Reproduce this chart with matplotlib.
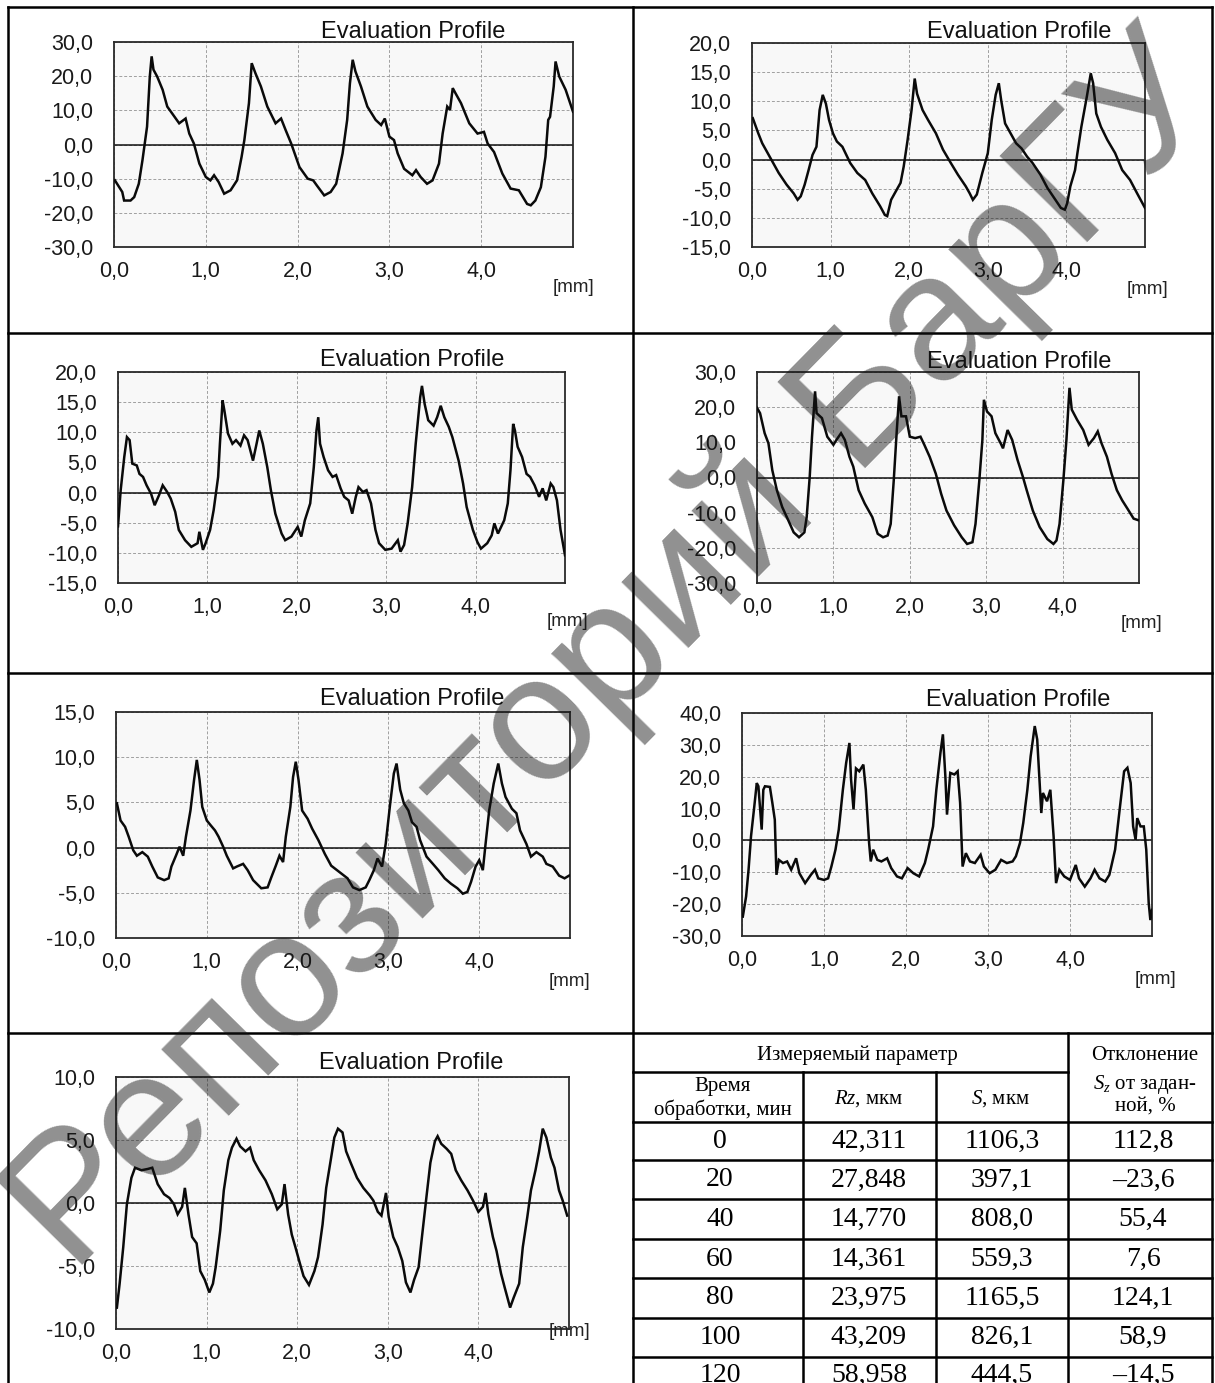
import matplotlib
matplotlib.use('Agg')
import matplotlib.pyplot as plt
from matplotlib.ticker import FixedLocator, FixedFormatter

plt.rcParams['font.family'] = ['Liberation Sans', 'DejaVu Sans']
plt.rcParams['mathtext.fontset'] = 'custom'
plt.rcParams['mathtext.rm'] = 'Liberation Serif'
plt.rcParams['mathtext.it'] = 'Liberation Serif:italic'

W, H, DPI = 1215, 1383, 100

# ---------------- data (profiles, mm / um) ----------------
p1_x = [0.01, 0.09, 0.11, 0.18, 0.22, 0.27, 0.31, 0.36, 0.39, 0.41, 0.43, 0.47, 0.53, 0.58, 0.62, 0.71, 0.78, 0.82, 0.87, 0.93,
        1.00, 1.05, 1.09, 1.14, 1.20, 1.27, 1.34, 1.39, 1.42, 1.47, 1.50, 1.54, 1.60, 1.67, 1.76, 1.82, 1.87, 1.93,
        2.02, 2.11, 2.17, 2.21, 2.29, 2.36, 2.42, 2.49, 2.54, 2.57, 2.60, 2.63, 2.69, 2.76, 2.85, 2.91, 2.95,
        3.00, 3.05, 3.09, 3.16, 3.25, 3.29, 3.34, 3.41, 3.47, 3.54, 3.58, 3.63, 3.66, 3.69, 3.72, 3.78, 3.87, 3.96,
        4.03, 4.07, 4.14, 4.23, 4.32, 4.41, 4.50, 4.54, 4.59, 4.65, 4.70, 4.73, 4.75, 4.79, 4.81, 4.85, 4.92, 5.00]
p1_y = [-10.5, -13.9, -16.4, -16.4, -15.4, -11.5, -4.6, 5.2, 19.9, 25.8, 21.9, 19.9, 16.0, 11.1, 9.6, 6.2, 7.6, 3.2, 0.3, -5.6,
        -9.5, -10.5, -9.0, -11.0, -14.4, -13.4, -10.5, -3.6, 1.3, 12.1, 23.8, 20.9, 17.0, 11.1, 6.2, 7.6, 4.2, 0.3,
        -6.6, -10.0, -10.5, -12.0, -14.9, -13.9, -11.5, -2.6, 7.2, 17.9, 24.8, 21.4, 17.0, 11.1, 7.2, 5.7, 7.6,
        2.3, 1.3, -2.6, -7.1, -9.0, -7.5, -9.5, -11.5, -10.5, -5.6, 3.2, 11.1, 10.1, 16.5, 15.0, 12.1, 6.2, 3.2,
        3.7, 0.3, -2.2, -8.5, -12.9, -13.4, -17.4, -17.8, -16.4, -12.5, -3.6, 7.2, 8.1, 17.0, 24.3, 19.9, 16.0, 9.6]

p2_x = [0.01, 0.08, 0.13, 0.20, 0.27, 0.34, 0.44, 0.53, 0.58, 0.62, 0.67, 0.72, 0.77, 0.82, 0.86, 0.90, 0.94, 0.98,
        1.03, 1.08, 1.15, 1.25, 1.34, 1.44, 1.53, 1.63, 1.69, 1.72, 1.77, 1.84, 1.89, 1.93, 1.98,
        2.03, 2.07, 2.10, 2.17, 2.24, 2.34, 2.43, 2.53, 2.62, 2.72, 2.77, 2.81, 2.86, 2.93,
        3.00, 3.05, 3.10, 3.14, 3.17, 3.22, 3.29, 3.36, 3.43, 3.50, 3.57, 3.67, 3.76, 3.86, 3.93, 3.98,
        4.01, 4.05, 4.11, 4.14, 4.19, 4.26, 4.31, 4.34, 4.38, 4.44, 4.52, 4.62, 4.71, 4.81, 4.90, 5.00]
p2_y = [7.1, 4.5, 2.8, 1.1, -0.6, -2.3, -4.3, -5.8, -6.9, -6.3, -4.3, -1.8, 0.8, 2.2, 8.5, 11.1, 9.6, 6.8,
        4.5, 3.1, 2.2, -0.6, -2.3, -3.5, -5.8, -8.0, -9.5, -9.7, -6.9, -5.2, -4.0, -1.2, 3.4,
        8.5, 13.9, 11.3, 8.5, 6.8, 4.5, 1.7, -0.6, -2.6, -4.6, -5.8, -6.9, -6.0, -2.3,
        1.1, 6.8, 11.1, 13.1, 10.2, 6.2, 4.5, 2.8, 1.9, 0.5, -0.6, -2.6, -4.9, -6.9, -8.3, -8.6,
        -7.5, -4.6, -1.8, 1.1, 5.6, 10.8, 14.8, 13.1, 7.9, 5.6, 3.4, 1.1, -1.8, -3.5, -5.8, -8.3]

p3_x = [0.00, 0.03, 0.07, 0.10, 0.13, 0.16, 0.21, 0.24, 0.28, 0.32, 0.37, 0.41, 0.46, 0.50, 0.55, 0.59, 0.64, 0.68, 0.75,
        0.82, 0.89, 0.91, 0.95, 0.98, 1.03, 1.07, 1.12, 1.14, 1.17, 1.19, 1.23, 1.28, 1.32, 1.37, 1.41, 1.45,
        1.51, 1.55, 1.58, 1.62, 1.67, 1.71, 1.76, 1.83, 1.87, 1.94, 2.01, 2.05, 2.09, 2.15, 2.19, 2.22, 2.24,
        2.26, 2.30, 2.35, 2.40, 2.44, 2.49, 2.53, 2.58, 2.62, 2.66, 2.69, 2.74, 2.78, 2.83, 2.88, 2.92, 2.99,
        3.06, 3.13, 3.16, 3.20, 3.24, 3.29, 3.33, 3.38, 3.40, 3.43, 3.47, 3.53, 3.57, 3.61, 3.65, 3.70, 3.74,
        3.81, 3.86, 3.90, 3.97, 4.02, 4.06, 4.13, 4.18, 4.21, 4.25, 4.32, 4.36, 4.39, 4.42, 4.44, 4.47, 4.52,
        4.57, 4.61, 4.66, 4.71, 4.75, 4.79, 4.84, 4.87, 4.91, 4.95, 5.00]
p3_y = [-5.6, 0.4, 5.9, 9.2, 8.7, 4.8, 4.5, 3.1, 2.6, 1.2, -0.2, -2.1, -0.4, 1.2, 0.1, -1.0, -3.2, -6.2, -7.9,
        -9.0, -8.4, -6.5, -9.5, -8.4, -6.2, -2.9, 2.6, 8.1, 15.3, 13.6, 9.8, 8.1, 8.7, 7.8, 9.5, 8.7,
        5.3, 8.1, 10.3, 8.1, 4.2, 0.4, -3.5, -6.8, -7.9, -7.3, -5.7, -7.3, -4.6, -1.8, 4.2, 10.3, 12.5,
        8.1, 5.9, 3.7, 2.6, 2.9, 0.7, -0.7, -1.3, -3.5, -0.7, 0.9, 0.1, 0.4, -1.8, -6.2, -8.4, -9.5,
        -9.3, -7.9, -9.8, -8.7, -5.1, 0.9, 8.1, 15.8, 17.7, 14.7, 12.0, 11.1, 12.5, 14.4, 12.5, 10.9, 9.2,
        5.3, 1.5, -2.4, -6.2, -8.2, -9.3, -8.4, -7.1, -5.1, -6.8, -4.6, -1.8, 3.7, 11.4, 10.3, 7.6, 5.9,
        3.1, 2.6, 1.2, -0.7, 0.7, -1.3, 1.5, 0.9, -1.3, -6.2, -10.4]

p4_x = [0.00, 0.04, 0.10, 0.15, 0.20, 0.26, 0.33, 0.41, 0.48, 0.55, 0.62, 0.65, 0.69, 0.72, 0.76, 0.78, 0.85, 0.92,
        1.00, 1.04, 1.10, 1.15, 1.21, 1.26, 1.33, 1.41, 1.51, 1.58, 1.65, 1.71, 1.75, 1.79, 1.83, 1.86, 1.89, 1.95,
        2.00, 2.07, 2.14, 2.19, 2.26, 2.34, 2.41, 2.48, 2.58, 2.68, 2.75, 2.82, 2.86, 2.91, 2.95, 2.97,
        3.01, 3.07, 3.12, 3.19, 3.22, 3.28, 3.34, 3.41, 3.48, 3.53, 3.61, 3.70, 3.80, 3.88, 3.92, 3.96,
        4.01, 4.05, 4.09, 4.12, 4.19, 4.27, 4.34, 4.41, 4.46, 4.51, 4.58, 4.64, 4.71, 4.78, 4.85, 4.93, 5.00]
p4_y = [19.8, 18.3, 12.6, 9.7, 2.1, -3.6, -8.4, -12.2, -15.6, -17.0, -15.6, -11.3, 0.2, 11.6, 24.5, 18.3, 16.9, 11.6,
        9.3, 10.7, 12.6, 10.7, 5.9, 3.1, -3.6, -7.4, -11.3, -16.0, -17.0, -16.5, -13.2, -0.8, 13.5, 23.1, 17.4, 17.4,
        11.6, 11.2, 11.6, 9.3, 5.9, 1.1, -4.6, -9.4, -13.6, -17.0, -18.9, -18.4, -13.2, -0.8, 10.7, 22.1,
        18.8, 17.4, 12.6, 9.7, 8.3, 13.5, 10.7, 5.0, 0.2, -3.6, -9.4, -14.1, -17.5, -18.9, -17.9, -13.2,
        -0.8, 10.7, 25.5, 19.3, 16.4, 13.5, 9.3, 11.2, 13.1, 9.7, 5.9, 1.1, -3.6, -6.5, -8.9, -11.7, -12.2]

p5_x = [0.01, 0.05, 0.10, 0.14, 0.19, 0.23, 0.29, 0.35, 0.40, 0.46, 0.53, 0.58, 0.61, 0.66, 0.70, 0.74, 0.77, 0.82,
        0.86, 0.89, 0.92, 0.95, 1.00, 1.04, 1.09, 1.13, 1.18, 1.22, 1.29, 1.33, 1.40, 1.45, 1.51, 1.60, 1.67,
        1.71, 1.76, 1.80, 1.84, 1.87, 1.92, 1.95, 1.98, 2.01, 2.05, 2.11, 2.16, 2.23, 2.30, 2.37, 2.46, 2.55,
        2.61, 2.68, 2.75, 2.79, 2.84, 2.88, 2.93, 2.97, 3.02, 3.06, 3.09, 3.13, 3.17, 3.22, 3.26, 3.31, 3.35,
        3.42, 3.49, 3.55, 3.62, 3.69, 3.76, 3.82, 3.87, 3.91, 3.96, 4.00, 4.04, 4.07, 4.11, 4.16, 4.21, 4.25,
        4.29, 4.36, 4.41, 4.45, 4.52, 4.57, 4.63, 4.70, 4.74, 4.81, 4.88, 4.94, 4.99]
p5_y = [4.9, 3.0, 2.3, 1.2, -0.3, -0.9, -0.5, -1.0, -2.1, -3.3, -3.6, -3.4, -2.1, -0.9, 0.1, -0.9, 1.2, 4.1,
        7.5, 9.7, 7.5, 4.5, 3.0, 2.5, 1.9, 1.2, 0.1, -0.9, -2.3, -2.1, -1.8, -2.5, -3.6, -4.5, -4.4,
        -3.3, -2.0, -0.9, -1.6, 1.2, 4.5, 7.8, 9.5, 7.5, 4.1, 3.2, 2.1, 0.8, -0.7, -2.0, -2.7, -3.4,
        -4.4, -4.7, -4.4, -3.6, -2.5, -1.2, -2.1, 0.4, 4.9, 8.2, 9.3, 6.4, 4.9, 4.1, 2.8, 2.3, 0.8,
        -1.0, -1.8, -2.5, -3.4, -4.0, -4.5, -5.1, -4.9, -3.8, -2.1, -1.4, -2.5, 0.4, 4.1, 7.1, 9.3, 7.1,
        5.6, 4.3, 3.8, 1.9, 0.4, -1.0, -0.5, -1.0, -1.8, -2.1, -3.1, -3.4, -3.1]

p6_x = [0.01, 0.05, 0.08, 0.11, 0.15, 0.18, 0.20, 0.24, 0.26, 0.28, 0.34, 0.37, 0.40, 0.42, 0.45, 0.50, 0.55, 0.60,
        0.66, 0.70, 0.77, 0.84, 0.89, 0.93, 1.00, 1.05, 1.09, 1.14, 1.18, 1.23, 1.27, 1.31, 1.33, 1.36, 1.39,
        1.43, 1.48, 1.51, 1.55, 1.57, 1.60, 1.65, 1.70, 1.77, 1.82, 1.89, 1.95, 2.02, 2.09, 2.16, 2.23, 2.27,
        2.33, 2.37, 2.42, 2.45, 2.48, 2.50, 2.54, 2.59, 2.63, 2.66, 2.69, 2.73, 2.78, 2.84, 2.91, 2.95, 3.02,
        3.09, 3.16, 3.23, 3.30, 3.34, 3.39, 3.43, 3.48, 3.52, 3.57, 3.60, 3.63, 3.65, 3.67, 3.72, 3.76, 3.80,
        3.83, 3.87, 3.93, 4.00, 4.07, 4.11, 4.18, 4.25, 4.30, 4.36, 4.43, 4.48, 4.55, 4.61, 4.66, 4.70, 4.74,
        4.77, 4.80, 4.82, 4.86, 4.90, 4.93, 4.96, 4.98, 5.00]
p6_y = [-23.9, -17.6, -9.2, 1.3, 10.7, 18.0, 17.0, 3.4, 15.9, 17.0, 16.8, 11.8, 6.5, -10.8, -6.1, -7.1, -6.6, -9.2,
        -5.6, -10.3, -13.4, -10.8, -9.2, -11.9, -12.4, -11.9, -8.2, -2.9, 3.4, 15.9, 24.3, 30.6, 19.1, 9.7, 22.6,
        21.7, 23.8, 15.9, -0.8, -6.6, -2.9, -6.1, -6.6, -5.6, -8.7, -11.3, -11.9, -8.7, -10.3, -11.3, -7.1, -2.9,
        4.4, 15.9, 27.5, 33.3, 20.1, 8.1, 21.2, 20.7, 21.7, 11.8, -8.2, -4.0, -6.6, -7.1, -4.5, -8.2, -10.3,
        -9.2, -6.1, -7.1, -6.6, -5.0, -0.8, 5.5, 15.9, 26.4, 35.9, 31.7, 18.0, 8.6, 14.9, 12.3, 15.9, 1.3,
        -13.4, -9.2, -11.3, -12.4, -7.7, -11.9, -14.5, -11.9, -9.2, -11.9, -12.9, -10.8, -2.9, 10.7, 21.7, 22.8, 18.0,
        4.4, 0.2, 7.0, 4.4, 4.4, -2.9, -19.7, -25.0, -21.8]

p7_x = [0.01, 0.04, 0.08, 0.12, 0.17, 0.21, 0.28, 0.35, 0.40, 0.46, 0.53, 0.59, 0.64, 0.68, 0.73, 0.76, 0.80, 0.84,
        0.89, 0.93, 0.98, 1.03, 1.07, 1.10, 1.15, 1.19, 1.24, 1.28, 1.33, 1.37, 1.43, 1.48, 1.52, 1.58, 1.65,
        1.72, 1.78, 1.83, 1.86, 1.90, 1.94, 1.98, 2.03, 2.07, 2.13, 2.19, 2.23, 2.28, 2.32, 2.37, 2.41, 2.45,
        2.50, 2.54, 2.59, 2.66, 2.73, 2.80, 2.84, 2.89, 2.93, 2.98, 3.01, 3.06, 3.11, 3.16, 3.20, 3.25, 3.29,
        3.34, 3.38, 3.43, 3.47, 3.52, 3.55, 3.59, 3.65, 3.70, 3.75, 3.81, 3.88, 3.94, 4.00, 4.05, 4.08, 4.11,
        4.16, 4.20, 4.25, 4.29, 4.35, 4.39, 4.45, 4.49, 4.54, 4.58, 4.63, 4.67, 4.71, 4.75, 4.80, 4.84, 4.89,
        4.93, 4.98]
p7_y = [-8.3, -6.4, -3.5, -0.1, 2.0, 2.8, 2.6, 2.7, 2.8, 1.5, 0.7, 0.4, -0.1, -0.9, -0.3, 1.2, -0.9, -2.7,
        -3.2, -5.4, -6.1, -7.1, -6.4, -5.1, -2.2, 1.0, 3.4, 4.4, 5.1, 4.5, 4.1, 4.4, 3.4, 2.6, 1.8,
        0.7, -0.5, -0.1, 1.5, -0.9, -2.5, -3.5, -4.8, -5.8, -6.5, -5.4, -4.3, -1.7, 1.2, 3.4, 5.2, 5.9,
        5.6, 4.1, 3.2, 2.0, 1.2, 0.6, 0.2, -0.7, -1.0, 0.8, -1.1, -2.7, -3.5, -4.6, -6.3, -7.1, -6.1,
        -5.1, -2.5, 0.7, 3.2, 4.9, 5.3, 4.7, 4.3, 3.9, 2.6, 1.8, 1.0, 0.2, -0.7, -0.3, 0.8, -0.9,
        -2.7, -3.8, -5.6, -6.7, -8.3, -7.5, -6.4, -3.5, -1.1, 1.0, 2.6, 4.1, 5.9, 5.2, 3.6, 2.8, 1.0,
        0.2, -1.0]

x_ticks = [0, 1, 2, 3, 4]
x_tick_labels = ['0,0', '1,0', '2,0', '3,0', '4,0']
x_limits = [0, 5]

p1_yticks = [30, 20, 10, 0, -10, -20, -30]
p1_yticklabels = ['30,0', '20,0', '10,0', '0,0', '-10,0', '-20,0', '-30,0']
p2_yticks = [20, 15, 10, 5, 0, -5, -10, -15]
p2_yticklabels = ['20,0', '15,0', '10,0', '5,0', '0,0', '-5,0', '-10,0', '-15,0']
p3_yticks = [20, 15, 10, 5, 0, -5, -10, -15]
p3_yticklabels = ['20,0', '15,0', '10,0', '5,0', '0,0', '-5,0', '-10,0', '-15,0']
p4_yticks = [30, 20, 10, 0, -10, -20, -30]
p4_yticklabels = ['30,0', '20,0', '10,0', '0,0', '-10,0', '-20,0', '-30,0']
p5_yticks = [15, 10, 5, 0, -5, -10]
p5_yticklabels = ['15,0', '10,0', '5,0', '0,0', '-5,0', '-10,0']
p6_yticks = [40, 30, 20, 10, 0, -10, -20, -30]
p6_yticklabels = ['40,0', '30,0', '20,0', '10,0', '0,0', '-10,0', '-20,0', '-30,0']
p7_yticks = [10, 5, 0, -5, -10]
p7_yticklabels = ['10,0', '5,0', '0,0', '-5,0', '-10,0']

plot_title = 'Evaluation Profile'
unit_label = '[mm]'

table_header_top = 'Измеряемый параметр'
table_header_dev = ['Отклонение', r'$S_z$ от задан-', 'ной, %']
table_header_time = ['Время', 'обработки, мин']
table_header_rz = r'$Rz$, мкм'
table_header_s = r'$S$, мкм'
table_time = ['0', '20', '40', '60', '80', '100', '120']
table_rz = ['42,311', '27,848', '14,770', '14,361', '23,975', '43,209', '58,958']
table_s = ['1106,3', '397,1', '808,0', '559,3', '1165,5', '826,1', '444,5']
table_dev = ['112,8', '–23,6', '55,4', '7,6', '124,1', '58,9', '–14,5']

watermark = 'Репозиторий БарГУ'

# ---------------- layout (pixels) ----------------
panels = [
    # x, y, yticks, yticklabels, axes box (l, t, r, b), title centre, unit centre
    (p1_x, p1_y, p1_yticks, p1_yticklabels, (114, 42, 573, 247), (413, 32), (574, 288)),
    (p2_x, p2_y, p2_yticks, p2_yticklabels, (752, 43, 1145, 247), (1019, 32), (1148, 290)),
    (p3_x, p3_y, p3_yticks, p3_yticklabels, (118, 372, 565, 583), (412, 360), (568, 621)),
    (p4_x, p4_y, p4_yticks, p4_yticklabels, (757, 372, 1139, 583), (1019, 362), (1141, 623)),
    (p5_x, p5_y, p5_yticks, p5_yticklabels, (116, 712, 570, 938), (412, 699), (570, 982)),
    (p6_x, p6_y, p6_yticks, p6_yticklabels, (742, 713, 1152, 936), (1018, 700), (1155, 980)),
    (p7_x, p7_y, p7_yticks, p7_yticklabels, (116, 1077, 569, 1329), (411, 1063), (570, 1332)),
]

fig = plt.figure(figsize=(W / DPI, H / DPI), dpi=DPI)
fig.patch.set_facecolor('white')

for xs, ys, yt, ytl, (l, t, r, b), _, _ in panels:
    ax = fig.add_axes([l / W, 1 - b / H, (r - l) / W, (b - t) / H])
    ax.set_facecolor('#f8f8f8')
    ax.plot(xs, ys, color='#0a0a0a', lw=1.8, solid_joinstyle='miter', zorder=3)
    ax.axhline(0, color='#111111', lw=1.1, zorder=2)
    ax.set_xlim(*x_limits)
    ax.set_ylim(min(yt), max(yt))
    ax.xaxis.set_major_locator(FixedLocator(x_ticks))
    ax.xaxis.set_major_formatter(FixedFormatter(x_tick_labels))
    ax.yaxis.set_major_locator(FixedLocator(yt))
    ax.yaxis.set_major_formatter(FixedFormatter(ytl))
    ax.grid(True, linestyle=(0, (3, 2)), color='#a0a0a0', linewidth=0.7, zorder=1)
    ax.set_axisbelow(True)
    ax.tick_params(length=0, labelsize=15.5, colors='#1a1a1a')
    ax.tick_params(axis='y', pad=15)
    ax.tick_params(axis='x', pad=10)
    for sp in ax.spines.values():
        sp.set_color('#2a2a2a')
        sp.set_linewidth(1.3)

# overlay in pixel coordinates
ov = fig.add_axes([0, 0, 1, 1])
ov.set_xlim(0, W)
ov.set_ylim(H, 0)
ov.axis('off')
ov.patch.set_alpha(0)

for *_, (tx, ty), (ux, uy) in panels:
    ov.text(tx, ty, plot_title, fontsize=17, ha='center', va='center', color='#111111')
    ov.text(ux, uy, unit_label, fontsize=13.5, ha='center', va='center', color='#222222')

lw_b = 1.8
def hline(y, x0, x1):
    ov.plot([x0, x1], [y, y], color='black', lw=lw_b, solid_capstyle='projecting')
def vline(x, y0, y1):
    ov.plot([x, x], [y0, y1], color='black', lw=lw_b, solid_capstyle='projecting')

# outer grid
hline(7, 8, 1212)
hline(333, 8, 1212)
hline(673, 8, 1212)
hline(1033, 8, 1212)
vline(8, 7, H + 5)
vline(633, 7, H + 5)
vline(1212, 7, H + 5)

# table grid
hline(1072, 633, 1068)
row_lines = [1122, 1160, 1199, 1239, 1278, 1318, 1357]
for y in row_lines:
    hline(y, 633, 1212)
vline(803, 1072, H + 5)
vline(936, 1072, H + 5)
vline(1068, 1033, H + 5)

serif = ['Liberation Serif', 'DejaVu Serif']
hfs = 15
ov.text(857, 1055, table_header_top, family=serif, fontsize=hfs, ha='center', va='center')
for txt, y in zip(table_header_dev, [1055, 1084, 1106]):
    ov.text(1145, y, txt, family=serif, fontsize=hfs, ha='center', va='center')
for txt, y in zip(table_header_time, [1087, 1110]):
    ov.text(723, y, txt, family=serif, fontsize=hfs, ha='center', va='center')
ov.text(869, 1099, table_header_rz, family=serif, fontsize=hfs, ha='center', va='center')
ov.text(1000, 1099, table_header_s, family=serif, fontsize=hfs, ha='center', va='center')

row_centres = [1141, 1180, 1219, 1259, 1298, 1337, 1375]
col_centres = [720, 869, 1002, 1143]
for i, yc in enumerate(row_centres):
    for xc, col in zip(col_centres, [table_time, table_rz, table_s, table_dev]):
        ov.text(xc, yc, col[i], family=serif, fontsize=20, ha='center', va='center')

# watermark
ov.text(615, 655, watermark, fontsize=129, ha='center', va='center', rotation=45.5,
        rotation_mode='anchor', color='#141414', alpha=0.47, zorder=10)

fig.savefig('out.png', dpi=DPI)
